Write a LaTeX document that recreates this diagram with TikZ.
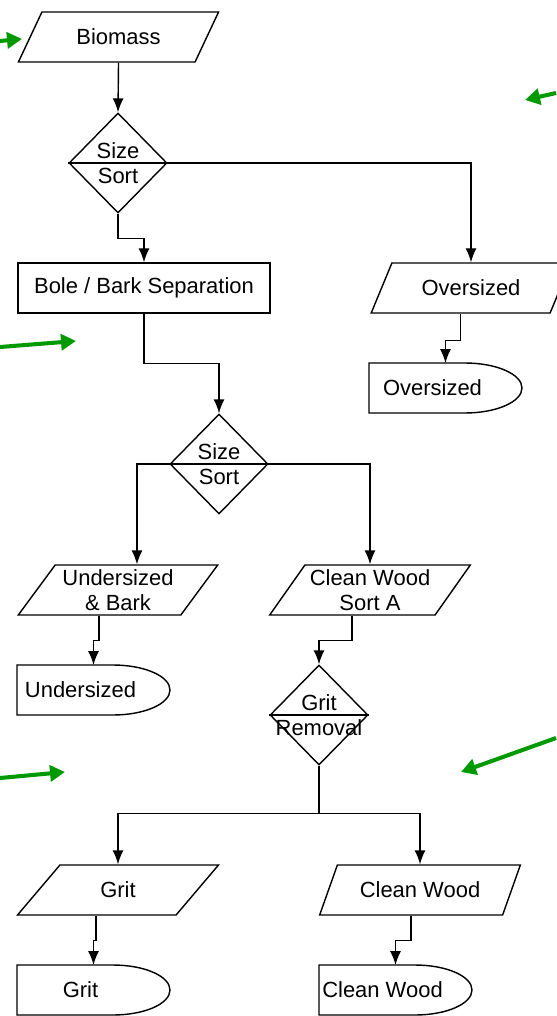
\documentclass[tikz,border=0pt]{standalone}
\usepackage{fontspec}
\setmainfont{Liberation Sans}
\usetikzlibrary{arrows.meta,shapes.geometric}

\definecolor{hintgreen}{RGB}{0,153,0}

\begin{document}
\begin{tikzpicture}[
    x=0.02cm, y=-0.02cm,
    every node/.style={font=\fontsize{12.5}{14}\selectfont},
    io/.style={trapezium, trapezium left angle=51.3, trapezium right angle=128.7, trapezium stretches,
        draw, line width=0.8pt, minimum width=4.02cm, minimum height=1cm, inner sep=0pt, align=center},
    proc/.style={rectangle, draw, line width=0.8pt, minimum width=5.04cm, minimum height=1cm},
    decide/.style={diamond, draw, line width=0.8pt, minimum width=1.96cm, minimum height=2cm, inner sep=0pt},
    store/.style={minimum width=3.06cm, minimum height=1cm, inner sep=0pt, outer sep=0pt,
        execute at begin node={\kern-5.2mm}},
    flow/.style={-{Latex[length=2.8mm,width=2.2mm]}, line width=0.8pt},
    hint/.style={-{Triangle[length=3mm,width=3.2mm]}, line width=2.3pt, hintgreen},
]
    \useasboundingbox (0,0) rectangle (556,1016);

    \node[io] (bio) at (118.5,37) {Biomass};
    \node[decide, label={[align=center]center:{Size\\Sort}}] (sort1) at (118,163) {};
    \node[proc] (bole) at (144,288) {Bole / Bark Separation};
    \node[io] (ovp) at (471,288) {Oversized};
    \node[store] (ovs) at (445.5,388) {Oversized};
    \node[decide, label={[align=center]center:{Size\\Sort}}] (sort2) at (219,464) {};
    \node[io] (unp) at (118,590) {Undersized\\\& Bark};
    \node[io] (cwa) at (370,590) {Clean Wood\\Sort A};
    \node[store] (uns) at (93.5,690) {Undersized};
    \node[decide, label={[align=center]center:{Grit\\Removal}}] (grit) at (319,715) {};
    \node[io] (gritp) at (118,890) {Grit};
    \node[io] (cwp) at (420,890) {Clean Wood};
    \node[store] (grs) at (93.5,990) {Grit};
    \node[store] (cws) at (395.5,990) {Clean Wood};

    % split lines and storage outlines
    \foreach \d in {sort1,sort2,grit}
        \draw[line width=0.8pt] (\d.west) -- (\d.east);
    \foreach \t in {ovs,uns,grs,cws}
        \draw[line width=0.8pt] (\t.north west) -- ++(96,0)
            arc[start angle=90, end angle=-90, x radius=1.14cm, y radius=0.5cm] -- (\t.south west) -- cycle;

    \draw[flow] (bio.south) -- (sort1.north);
    \draw[flow] (sort1.south) -- ++(0,25) -| (bole.north);
    \draw[flow] (sort1.east) -| (ovp.north);
    \draw[flow] (ovp.bottom side) -- ++(0,27) -| (ovs.north);
    \draw[flow] (bole.south) -- ++(0,50) -| (sort2.north);
    \draw[flow] (sort2.west) -| (unp.top side);
    \draw[flow] (sort2.east) -| (cwa.north);
    \draw[flow] (unp.bottom side) -- ++(0,25) -| (uns.north);
    \draw[flow] (cwa.bottom side) -- ++(0,25) -| (grit.north);
    \draw[flow] (grit.south) -- ++(0,48) -| (gritp.north);
    \draw[flow] (grit.south) -- ++(0,48) -| (cwp.north);
    \draw[flow] (gritp.bottom side) -- ++(0,25) -| (grs.north);
    \draw[flow] (cwp.bottom side) -- ++(0,25) -| (cws.north);

    % green pointers
    \coordinate (h1a) at (0,41);    \coordinate (h1b) at (22,39);
    \coordinate (h2a) at (556,93);  \coordinate (h2b) at (525,100);
    \coordinate (h3a) at (0,347);   \coordinate (h3b) at (76,341);
    \coordinate (h4a) at (0,778);   \coordinate (h4b) at (65,772);
    \coordinate (h5a) at (556,738); \coordinate (h5b) at (461,772);
    \draw[hint] (h1a) -- (h1b);
    \draw[hint] (h2a) -- (h2b);
    \draw[hint] (h3a) -- (h3b);
    \draw[hint] (h4a) -- (h4b);
    \draw[hint] (h5a) -- (h5b);
\end{tikzpicture}
\end{document}
